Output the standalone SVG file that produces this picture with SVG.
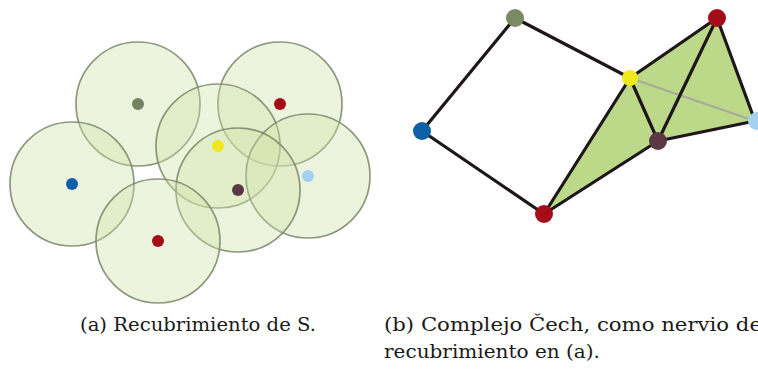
<svg xmlns="http://www.w3.org/2000/svg" width="758" height="369" viewBox="0 0 758 369">
<style>
.cov{fill:#cfe3a8;fill-opacity:0.38;stroke:#7a8668;stroke-width:1.7;stroke-opacity:0.85}
.pt{stroke:none}
.edge{stroke:#1e1618;stroke-width:3.2;stroke-linecap:round;fill:none}
.tri{fill:#bcd98a;stroke:none}
.cap{font-family:"DejaVu Serif","Liberation Serif",serif;font-size:18px;fill:#1a1a1a}
</style>
<rect width="758" height="369" fill="#ffffff"/>
<g id="panel-a">
  <g id="cover-olive"><circle class="cov" cx="138" cy="104" r="62"/></g>
  <g id="cover-blue"><circle class="cov" cx="72" cy="184" r="62"/></g>
  <g id="cover-redtop"><circle class="cov" cx="280" cy="104" r="62"/></g>
  <g id="cover-yellow"><circle class="cov" cx="218" cy="146" r="62"/></g>
  <g id="cover-lightblue"><circle class="cov" cx="308" cy="176" r="62"/></g>
  <g id="cover-maroon"><circle class="cov" cx="238" cy="190" r="62"/></g>
  <g id="cover-redbottom"><circle class="cov" cx="158" cy="241" r="62"/></g>
  <g id="points-a">
    <circle class="pt" cx="138" cy="104" r="6" fill="#748460"/>
    <circle class="pt" cx="72" cy="184" r="6" fill="#1060a8"/>
    <circle class="pt" cx="280" cy="104" r="6" fill="#a30c18"/>
    <circle class="pt" cx="218" cy="146" r="6" fill="#f2e820"/>
    <circle class="pt" cx="308" cy="176" r="6" fill="#a4d0f2"/>
    <circle class="pt" cx="238" cy="190" r="6" fill="#5c3844"/>
    <circle class="pt" cx="158" cy="241" r="6" fill="#a30c18"/>
  </g>
</g>
<g id="panel-b">
  <g id="simplices">
    <polygon class="tri" points="630,78 717,18 755,121 658,141"/>
    <polygon class="tri" points="630,78 658,141 544,214"/>
  </g>
  <g id="connectors">
    <line x1="630" y1="78" x2="755" y2="121" stroke="#a8ab98" stroke-width="2"/>
    <line class="edge" x1="515" y1="18" x2="422" y2="131"/>
    <line class="edge" x1="515" y1="18" x2="630" y2="78"/>
    <line class="edge" x1="422" y1="131" x2="544" y2="214"/>
    <line class="edge" x1="630" y1="78" x2="717" y2="18"/>
    <line class="edge" x1="630" y1="78" x2="658" y2="141"/>
    <line class="edge" x1="630" y1="78" x2="544" y2="214"/>
    <line class="edge" x1="717" y1="18" x2="658" y2="141"/>
    <line class="edge" x1="717" y1="18" x2="755" y2="121"/>
    <line class="edge" x1="658" y1="141" x2="755" y2="121"/>
    <line class="edge" x1="658" y1="141" x2="544" y2="214"/>
  </g>
  <g id="v-olive"><circle cx="515" cy="18" r="9" fill="#7a8a62"/></g>
  <g id="v-redtop"><circle cx="717" cy="18" r="9" fill="#a30c18"/></g>
  <g id="v-yellow"><circle cx="630" cy="78" r="8" fill="#f2e820"/></g>
  <g id="v-blue"><circle cx="422" cy="131" r="9" fill="#1060a8"/></g>
  <g id="v-lightblue"><circle cx="757" cy="121" r="9" fill="#a4d0f2"/></g>
  <g id="v-maroon"><circle cx="658" cy="141" r="9" fill="#5c3844"/></g>
  <g id="v-redbottom"><circle cx="544" cy="214" r="9" fill="#a30c18"/></g>
</g>
<g id="captions">
  <text class="cap" x="80" y="331" textLength="236" lengthAdjust="spacingAndGlyphs">(a) Recubrimiento de S.</text>
  <text class="cap" x="384" y="331" textLength="378" lengthAdjust="spacingAndGlyphs">(b) Complejo Čech, como nervio de</text>
  <text class="cap" x="384" y="358" textLength="216" lengthAdjust="spacingAndGlyphs">recubrimiento en (a).</text>
</g>
</svg>
